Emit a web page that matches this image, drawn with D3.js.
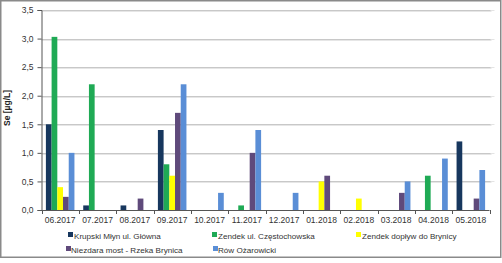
<!DOCTYPE html>
<html><head><meta charset="utf-8">
<script src="https://cdn.jsdelivr.net/npm/d3@7"></script>
<style>body{margin:0;background:#fff}svg{display:block;font-family:Arial,"Liberation Sans",sans-serif}</style>
</head><body><svg id="c" width="502" height="263"></svg>
<script>
const categories = ["06.2017","07.2017","08.2017","09.2017","10.2017","11.2017","12.2017","01.2018","02.2018","03.2018","04.2018","05.2018"];
const seriesNames = ["Krupski Młyn ul. Główna","Zendek ul. Częstochowska","Zendek dopływ do Brynicy","Niezdara most - Rzeka Brynica","Rów Ożarowicki"];
const krupski   = [1.5, 0.08, 0.08, 1.4, 0, 0, 0, 0, 0, 0, 0, 1.2];
const zendekCz  = [3.03, 2.2, 0, 0.8, 0, 0.08, 0, 0, 0, 0, 0.6, 0];
const zendekDop = [0.4, 0, 0, 0.6, 0, 0, 0, 0.5, 0.2, 0, 0, 0];
const niezdara  = [0.23, 0, 0.2, 1.7, 0, 1.0, 0, 0.6, 0, 0.3, 0, 0.2];
const rowOz     = [1.0, 0, 0, 2.2, 0.3, 1.4, 0.3, 0, 0, 0.5, 0.9, 0.7];
const yTicks = [0, 0.5, 1.0, 1.5, 2.0, 2.5, 3.0, 3.5];
const colors = ["#17375e","#1faa55","#ffff00","#5f4a7b","#5a8ed6"];
const seriesValues = [krupski, zendekCz, zendekDop, niezdara, rowOz];

const svg = d3.select("#c");
const L = 41.5, R = 489.5, T = 10, B = 210;
const x = d3.scaleBand().domain(categories).range([L, R]).padding(0);
const xs = d3.scaleBand().domain(d3.range(5)).range([0, x.bandwidth()]).paddingInner(0).paddingOuter(0.77);
const y = d3.scaleLinear().domain([0, 3.5]).range([B, T]);

// frame
svg.append("rect").attr("x",0.75).attr("y",0.75).attr("width",500).attr("height",256.5)
  .attr("fill","#fff").attr("stroke","#8a8a8a").attr("stroke-width",1.5);

// grid
const g = svg.append("g");
yTicks.filter(d=>d>0).forEach(t=>{
  g.append("line").attr("x1",L).attr("x2",R+2).attr("y1",Math.round(y(t))+0.5).attr("y2",Math.round(y(t))+0.5)
   .attr("stroke","#c8c8c8").attr("stroke-width",1);
  g.append("line").attr("x1",L).attr("x2",R+2).attr("y1",Math.round(y(t))+1.5).attr("y2",Math.round(y(t))+1.5)
   .attr("stroke","#e6e6e6").attr("stroke-width",1);
  g.append("line").attr("x1",R+1).attr("x2",R+5).attr("y1",Math.round(y(t))+0.5).attr("y2",Math.round(y(t))+0.5)
   .attr("stroke","#e4e4e4");
});

// bars
seriesValues.forEach((vals,si)=>{
  svg.append("g").selectAll("rect").data(categories.map((c,i)=>({c,v:vals[i]})).filter(d=>d.v>0))
    .join("rect")
    .attr("x",d=>x(d.c)+xs(si)).attr("width",xs.bandwidth())
    .attr("y",d=>y(d.v)).attr("height",d=>B-y(d.v))
    .attr("fill",colors[si]);
});

// y axis
const ya = svg.append("g").attr("transform",`translate(${L},0)`)
  .call(d3.axisLeft(y).tickValues(yTicks).tickSize(4).tickPadding(4).tickFormat(d=>d3.format(".1f")(d).replace(".",",")));
ya.select(".domain").attr("stroke","#555");
ya.selectAll(".tick line").attr("stroke","#555");
ya.selectAll("text").attr("font-size","8.5px").attr("fill","#333").attr("font-family","Arial,'Liberation Sans',sans-serif");

// x axis
const xa = svg.append("g").attr("transform",`translate(0,${B})`)
  .call(d3.axisBottom(x).tickSize(0).tickPadding(7));
xa.select(".domain").attr("stroke","#555").attr("d",`M${L},0.5H${R}`);
xa.selectAll("text").attr("font-size","8.5px").attr("fill","#333").attr("font-family","Arial,'Liberation Sans',sans-serif");
categories.concat([null]).forEach((c,i)=>{
  const xx = c ? x(c) : R;
  xa.append("line").attr("x1",Math.round(xx)+0.5).attr("x2",Math.round(xx)+0.5).attr("y1",0).attr("y2",4).attr("stroke","#555");
});

// y label
svg.append("text").attr("transform","translate(10,108) rotate(-90)").attr("text-anchor","middle")
  .attr("font-size","8.5px").attr("font-weight","bold").attr("fill","#222").text("Se [µg/L]");

// legend
const legendPos = [[68,236],[212,236],[356,236],[66,250],[213,250]];
seriesNames.forEach((n,i)=>{
  const [lx,ly] = legendPos[i];
  svg.append("rect").attr("x",lx).attr("y",ly-4).attr("width",5).attr("height",5).attr("fill",colors[i]);
  svg.append("text").attr("x",lx+(i<3?6:5)).attr("y",ly+2.5).attr("font-size","8.1px").attr("fill","#333").text(n);
});
</script></body></html>
